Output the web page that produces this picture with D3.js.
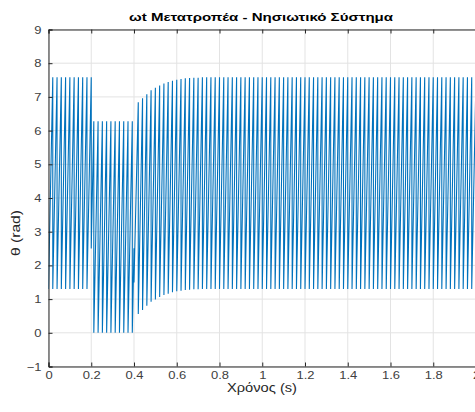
<!DOCTYPE html>
<html>
<head>
<meta charset="utf-8">
<script src="https://cdn.jsdelivr.net/npm/d3@7"></script>
<style>
  html, body { margin: 0; padding: 0; background: #fff; }
  svg { display: block; }
  text { font-family: "Liberation Sans", Arial, Helvetica, sans-serif; }
</style>
</head>
<body>
<svg id="chart" width="475" height="412"></svg>
<script>
// ---- Data ----
const titleText = "ωt Μετατροπέα - Νησιωτικό Σύστημα";
const xLabelText = "Χρόνος (s)";
const yLabelText = "θ (rad)";
const xTicks = [0, 0.2, 0.4, 0.6, 0.8, 1, 1.2, 1.4, 1.6, 1.8, 2];
const yTicks = [-1, 0, 1, 2, 3, 4, 5, 6, 7, 8, 9];

// times at which the phase wraps (s)
const wrapTimes = [
  0, 0.02, 0.04, 0.06, 0.08, 0.10, 0.12, 0.14, 0.16, 0.18,
  0.20,
  0.212, 0.232, 0.252, 0.272, 0.292, 0.312, 0.332, 0.352, 0.372, 0.392,
  0.40,
  0.42, 0.44, 0.46, 0.48, 0.50, 0.52, 0.54, 0.56, 0.58, 0.60,
  0.62, 0.64, 0.66, 0.68, 0.70, 0.72, 0.74, 0.76, 0.78, 0.80,
  0.82, 0.84, 0.86, 0.88, 0.90, 0.92, 0.94, 0.96, 0.98, 1.00,
  1.02, 1.04, 1.06, 1.08, 1.10, 1.12, 1.14, 1.16, 1.18, 1.20,
  1.22, 1.24, 1.26, 1.28, 1.30, 1.32, 1.34, 1.36, 1.38, 1.40,
  1.42, 1.44, 1.46, 1.48, 1.50, 1.52, 1.54, 1.56, 1.58, 1.60,
  1.62, 1.64, 1.66, 1.68, 1.70, 1.72, 1.74, 1.76, 1.78, 1.80,
  1.82, 1.84, 1.86, 1.88, 1.90, 1.92, 1.94, 1.96, 1.98, 2.00
];
// θ just before each wrap (rad)
const peakValues = [
  1.30, 7.58, 7.58, 7.58, 7.58, 7.58, 7.58, 7.58, 7.58, 7.58,
  7.58,
  6.28, 6.28, 6.28, 6.28, 6.28, 6.28, 6.28, 6.28, 6.28, 6.28,
  2.51,
  6.84, 6.96, 7.08, 7.20, 7.27, 7.34, 7.40, 7.44, 7.48, 7.51,
  7.53, 7.55, 7.56, 7.57, 7.57, 7.58, 7.58, 7.58, 7.58, 7.58,
  7.58, 7.58, 7.58, 7.58, 7.58, 7.58, 7.58, 7.58, 7.58, 7.58,
  7.58, 7.58, 7.58, 7.58, 7.58, 7.58, 7.58, 7.58, 7.58, 7.58,
  7.58, 7.58, 7.58, 7.58, 7.58, 7.58, 7.58, 7.58, 7.58, 7.58,
  7.58, 7.58, 7.58, 7.58, 7.58, 7.58, 7.58, 7.58, 7.58, 7.58,
  7.58, 7.58, 7.58, 7.58, 7.58, 7.58, 7.58, 7.58, 7.58, 7.58,
  7.58, 7.58, 7.58, 7.58, 7.58, 7.58, 7.58, 7.58, 7.58, 7.58
];
// θ just after each wrap (rad)
const troughValues = [
  1.30, 1.30, 1.30, 1.30, 1.30, 1.30, 1.30, 1.30, 1.30, 1.30,
  2.50,
  0.00, 0.00, 0.00, 0.00, 0.00, 0.00, 0.00, 0.00, 0.00, 0.00,
  1.49,
  0.56, 0.68, 0.80, 0.92, 0.99, 1.06, 1.12, 1.16, 1.20, 1.23,
  1.25, 1.27, 1.28, 1.29, 1.29, 1.30, 1.30, 1.30, 1.30, 1.30,
  1.30, 1.30, 1.30, 1.30, 1.30, 1.30, 1.30, 1.30, 1.30, 1.30,
  1.30, 1.30, 1.30, 1.30, 1.30, 1.30, 1.30, 1.30, 1.30, 1.30,
  1.30, 1.30, 1.30, 1.30, 1.30, 1.30, 1.30, 1.30, 1.30, 1.30,
  1.30, 1.30, 1.30, 1.30, 1.30, 1.30, 1.30, 1.30, 1.30, 1.30,
  1.30, 1.30, 1.30, 1.30, 1.30, 1.30, 1.30, 1.30, 1.30, 1.30,
  1.30, 1.30, 1.30, 1.30, 1.30, 1.30, 1.30, 1.30, 1.30, 1.30
];

// ---- Layout ----
const svg = d3.select("#chart");
const mLeft = 48.5, mRight = 476, mTop = 29.5, mBottom = 366.5;
const stretch = 1.18; // the reference text is horizontally stretched

const x = d3.scaleLinear().domain([0, 2]).range([mLeft, mRight]);
const y = d3.scaleLinear().domain([-1, 9]).range([mBottom, mTop]);

const axisColor = "#262626";
const gridColor = "#e3e3e3";

// grid
const grid = svg.append("g");
grid.selectAll("line.vx").data(xTicks).join("line")
  .attr("x1", d => x(d)).attr("x2", d => x(d))
  .attr("y1", mTop).attr("y2", mBottom)
  .attr("stroke", gridColor).attr("stroke-width", 1);
grid.selectAll("line.hy").data(yTicks).join("line")
  .attr("x1", mLeft).attr("x2", mRight)
  .attr("y1", d => y(d)).attr("y2", d => y(d))
  .attr("stroke", gridColor).attr("stroke-width", 1);

// data
svg.append("clipPath").attr("id", "clip").append("rect")
  .attr("x", mLeft).attr("y", mTop).attr("width", mRight - mLeft).attr("height", mBottom - mTop);

const vertices = [];
wrapTimes.forEach((t, i) => {
  vertices.push([t, peakValues[i]]);
  vertices.push([t, troughValues[i]]);
});

const line = d3.line().x(d => x(d[0])).y(d => y(d[1]));
svg.append("path")
  .datum(vertices)
  .attr("clip-path", "url(#clip)")
  .attr("d", line)
  .attr("fill", "none")
  .attr("stroke", "#0072BD")
  .attr("stroke-width", 1.1);

// axes (MATLAB-like, ticks inward)
const xAxis = d3.axisBottom(x).tickValues(xTicks).tickSize(-4).tickPadding(5)
  .tickFormat(d => d3.format("~g")(d));
const yAxis = d3.axisLeft(y).tickValues(yTicks).tickSize(-4).tickPadding(7)
  .tickFormat(d => d3.format("~g")(d));
const xTopAxis = d3.axisTop(x).tickValues(xTicks).tickSize(-4).tickFormat("");

const gx = svg.append("g").attr("transform", `translate(0,${mBottom})`).call(xAxis);
const gy = svg.append("g").attr("transform", `translate(${mLeft},0)`).call(yAxis);
const gt = svg.append("g").attr("transform", `translate(0,${mTop})`).call(xTopAxis);

[gx, gy, gt].forEach(g => {
  g.select(".domain").attr("stroke", axisColor).attr("stroke-width", 1);
  g.selectAll(".tick line").attr("stroke", axisColor).attr("stroke-width", 1);
  g.selectAll(".tick text").attr("fill", "#404040")
    .style("font-family", "'Liberation Sans', Arial, sans-serif")
    .style("font-size", "11px");
});
gx.selectAll(".tick text").attr("transform", `scale(${stretch},1)`);
gy.selectAll(".tick text")
  .attr("x", -7 / stretch)
  .attr("transform", `scale(${stretch},1)`);

// title & labels
svg.append("text")
  .attr("x", 261).attr("y", 21)
  .attr("text-anchor", "middle")
  .attr("textLength", 264).attr("lengthAdjust", "spacingAndGlyphs")
  .style("font-size", "11px").style("font-weight", "bold").attr("fill", "#000")
  .text(titleText);

svg.append("text")
  .attr("x", 262).attr("y", 392)
  .attr("text-anchor", "middle")
  .attr("textLength", 70).attr("lengthAdjust", "spacingAndGlyphs")
  .style("font-size", "12px").attr("fill", "#262626")
  .text(xLabelText);

svg.append("text")
  .attr("transform", `translate(20,233) rotate(-90)`)
  .attr("text-anchor", "middle")
  .attr("textLength", 46).attr("lengthAdjust", "spacingAndGlyphs")
  .style("font-size", "12.5px").attr("fill", "#262626")
  .text(yLabelText);
</script>
</body>
</html>
